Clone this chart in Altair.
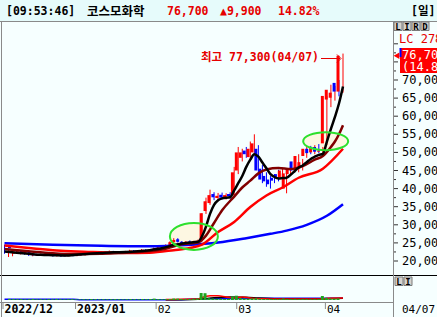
import altair as alt
import pandas as pd

# ---------------- values ----------------
opens = [24300, 22000, 22300, 22800, 22200, 22500, 22000, 21500, 21800, 21500, 21900, 21600, 21800, 21400, 21700, 21300, 21600, 21900,
         21500, 21900, 21700, 22100, 22300, 22000, 22400, 22200, 22500, 22700, 22400, 22600, 22300, 22700, 22900, 22600, 22900, 23100, 22900, 23200,
         23500, 23800, 23800, 24400, 25200, 26000, 25300, 24900, 25400, 25000, 25300, 25600, 33800, 36000, 38500, 37400, 38300, 37500, 38500, 38200,
         45000, 48500, 50500, 48700, 50000, 51000, 45500, 43500, 42500, 43000, 44000, 43000, 40000, 44000, 47500, 45000, 45500, 49000, 51000, 50000, 51500, 50200,
         52500, 64600, 65100, 69200, 66800]
closes = [23500, 22600, 22700, 22300, 22500, 22000, 21600, 21800, 21500, 21900, 21600, 21800, 21400, 21700, 21300, 21600, 21900, 21500,
          21900, 21700, 22100, 22300, 22000, 22400, 22200, 22500, 22700, 22400, 22600, 22300, 22700, 22900, 22600, 22900, 23100, 22900, 23200, 23500,
          23800, 23600, 24400, 25200, 25800, 25300, 24900, 25300, 25000, 25400, 25600, 33200, 36500, 38200, 37600, 38000, 37500, 38200, 37900, 44500,
          50000, 50000, 49500, 51000, 52500, 45000, 42500, 42000, 41200, 42200, 42800, 45000, 44200, 45500, 45000, 49000, 47300, 51000, 49800, 51200, 50200, 50500,
          65600, 67300, 66500, 66800, 76700]
highs = [24500, 23000, 23100, 23000, 22800, 22700, 22200, 22000, 22000, 22100, 22100, 22000, 21900, 21900, 21800, 21800, 22100, 22000,
         22000, 22000, 22200, 22500, 22400, 22500, 22500, 22600, 22900, 22800, 22700, 22700, 22800, 23100, 23000, 23000, 23300, 23200, 23300, 23700,
         24000, 24000, 24600, 25400, 26300, 26300, 25500, 25500, 25700, 25600, 25900, 33200, 37500, 39700, 39000, 38800, 38900, 38700, 39000, 46000,
         51500, 51000, 51500, 53000, 55000, 52000, 46500, 44500, 43500, 44000, 45200, 45800, 45000, 46500, 48500, 49500, 48200, 51800, 51800, 52000, 52300, 51500,
         65600, 68700, 68400, 70000, 77300]
lows = [22000, 21100, 21300, 22100, 21800, 21700, 21400, 21300, 21400, 21400, 21400, 21400, 21200, 21200, 21100, 21200, 21500, 21300,
        21300, 21500, 21500, 21900, 21800, 21800, 22000, 22000, 22300, 22200, 22200, 22100, 22100, 22500, 22400, 22400, 22700, 22700, 22700, 23000,
        23300, 23400, 23700, 24200, 25000, 25100, 24700, 24700, 24900, 24800, 25100, 25400, 33000, 35500, 36800, 36500, 37000, 37000, 37200, 38000,
        44000, 47500, 48500, 48000, 49500, 44500, 41500, 40500, 40000, 41500, 42000, 42500, 38700, 43500, 44500, 44500, 45000, 48500, 49500, 49500, 49800, 49500,
        52000, 62500, 64300, 65500, 66500]
volumes = [1100, 900, 800, 900, 700, 800, 900, 700, 800, 700, 800, 700, 900, 800, 700, 800, 900, 700,
           700, 800, 700, 900, 800, 700, 800, 700, 800, 900, 800, 700, 800, 900, 800, 700, 900, 800, 1000, 1400,
           900, 800, 900, 1000, 1500, 1400, 900, 900, 1000, 1200, 1500, 7000, 6800, 1800, 1500, 1200, 1300, 1000, 1200, 3500,
           4300, 2000, 1500, 1300, 1600, 1800, 1200, 1000, 900, 900, 1000, 900, 1400, 1000, 900, 1100, 900, 1000, 900, 800, 900, 900,
           4000, 2200, 1500, 1400, 1600]
day = list(range(len(closes)))

# moving averages (sampled along the drawn lines)
ma5_day = [0, 3, 6, 9, 12, 15, 18, 21, 24, 27, 30, 33, 36, 39, 42, 45, 48, 49, 50, 51, 52, 53, 54, 56, 57, 58, 59, 60, 61, 62, 63, 64, 65,
           66, 67, 68, 69, 70, 71, 72, 73, 74, 75, 76, 77, 78, 79, 80, 81, 82, 83, 84]
ma5 = [22600, 22300, 22000, 21700, 21600, 21500, 21700, 22000, 22200, 22400, 22500, 22700, 23000, 23500, 24400, 25000, 25300, 26800, 29500,
       33000, 35500, 36800, 37300, 37600, 39500, 41500, 43500, 46000, 48000, 49500, 48800, 47200, 45600, 44000, 43200, 42800, 42900, 43000,
       43800, 44800, 45800, 46400, 47300, 48200, 48800, 49300, 49600, 53000, 56500, 59800, 63500, 68200]
ma10_day = [0, 8, 16, 24, 32, 40, 44, 48, 50, 52, 54, 57, 59, 61, 63, 65, 68, 71, 74, 77, 79, 81, 82, 83, 84]
ma10 = [23300, 22500, 21900, 22000, 22400, 23400, 24600, 25100, 27000, 30500, 34000, 37800, 40300, 42200, 44200, 45300, 45700, 45400,
        46200, 48000, 49000, 51500, 53000, 55000, 57500]
ma20_day = [0, 6, 12, 18, 24, 30, 36, 42, 46, 49, 53, 57, 61, 65, 69, 73, 79, 84]
ma20 = [24300, 23600, 23000, 22600, 22400, 22200, 22300, 23000, 23600, 24500, 28000, 30800, 34900, 38100, 40300, 43000, 45500, 51000]
ma60_day = [0, 12, 24, 36, 45, 53, 60, 66, 70, 75, 80, 84]
ma60 = [24900, 24500, 24200, 24050, 24400, 25100, 26300, 27500, 28400, 30000, 32500, 35700]

vma_blue_day = [0, 17, 19, 44, 48, 52, 60, 70, 79, 84]
vma_blue = [700, 700, 300, 300, 1000, 1300, 1600, 1700, 1700, 1700]
vma_black_day = [40, 48, 52, 56, 60, 63, 68, 79, 81, 84]
vma_black = [300, 800, 2200, 2900, 2800, 2000, 1200, 1000, 1400, 1800]
vma_red_day = [40, 44, 48, 49, 51, 53, 55, 57, 59, 62, 70, 79, 80, 84]
vma_red = [500, 700, 900, 2500, 4300, 4300, 3000, 2000, 3000, 1500, 1000, 1000, 1800, 2000]

price_ticks = [20000, 25000, 30000, 35000, 40000, 45000, 50000, 55000, 60000, 65000, 70000]
price_labels = ["20,000", "25,000", "30,000", "35,000", "40,000", "45,000", "50,000", "55,000", "60,000", "65,000", "70,000"]
major_ticks = price_ticks + [75000, 80000]
minor_ticks = [22500, 27500, 32500, 37500, 42500, 47500, 52500, 57500, 62500, 67500, 72500, 77500]

month_day = [0, 18, 38, 58, 80]
month_label = ["2022/12", "2023/01", "02", "03", "04"]
month_bold = [True, True, False, False, False]

high_day, high_price, last_price = 84, 77300, 76700
ell1_day, ell1_price = 47.0, 26800
ell2_day, ell2_price = 79.7, 53100

# ---------------- scales & helpers ----------------
XS = alt.Scale(domain=[0, 84], range=[4.5, 343], nice=False, zero=False)
YP = alt.Scale(domain=[20000, 70000], range=[261, 80], nice=False, zero=False)
YV = alt.Scale(domain=[0, 24000], range=[300, 276], nice=False, zero=False)
MONO = "DejaVu Sans Mono, Noto Sans CJK KR"
RED = "#e60000"
GRAY = "#8a8a8a"
one = pd.DataFrame({"d": [0]})


def X(f="i"):
    return alt.X(f + ":Q", scale=XS, axis=None)


def hline(y, x1, x2, color, w=1):
    return alt.Chart(one).mark_rule(color=color, strokeWidth=w).encode(
        x=alt.value(x1), x2=alt.value(x2), y=alt.value(y))


def vline(x, y1, y2, color, w=1):
    return alt.Chart(one).mark_rule(color=color, strokeWidth=w).encode(
        x=alt.value(x), y=alt.value(y1), y2=alt.value(y2))


def box(x1, x2, y1, y2, fill, stroke=None):
    kw = dict(fill=fill)
    if stroke:
        kw.update(stroke=stroke, strokeWidth=1)
    return alt.Chart(one).mark_rect(**kw).encode(
        x=alt.value(x1), x2=alt.value(x2), y=alt.value(y1), y2=alt.value(y2))


def label(x, y, s, color="#000000", size=11, bold=False, align="left", font=MONO):
    return alt.Chart(one).mark_text(text=s, color=color, fontSize=size,
                                    fontWeight="bold" if bold else "normal",
                                    align=align, baseline="middle", font=font).encode(
        x=alt.value(x), y=alt.value(y))


def ma_line(days, vals, color, w=2.5, scale=YP):
    df = pd.DataFrame({"i": days, "v": vals})
    return alt.Chart(df).mark_line(color=color, strokeWidth=w, interpolate="monotone").encode(
        x=X(), y=alt.Y("v:Q", scale=scale, axis=None))


def ellipse(ci, cp, rx, ry, filled):
    k = ry / rx
    path = f"M -1 0 A 1 {k:.4f} 0 1 0 1 0 A 1 {k:.4f} 0 1 0 -1 0 Z"
    df = pd.DataFrame({"i": [ci], "p": [cp]})
    if filled:
        m = alt.Chart(df).mark_point(shape=path, size=(2 * rx) ** 2, filled=True,
                                     color="#fdf7e2", opacity=1, strokeWidth=0)
    else:
        m = alt.Chart(df).mark_point(shape=path, size=(2 * rx) ** 2, filled=False,
                                     color="#2de02d", strokeWidth=2, opacity=1)
    return m.encode(x=X(), y=alt.Y("p:Q", scale=YP, axis=None))


layers = []

# header
layers += [box(0, 437, 0, 21, "#e6fbfb"), hline(21.5, 0, 437, GRAY)]
layers += [label(6, 11.5, "[09:53:46]", bold=True, size=11.5),
           label(87, 11.5, "코스모화학", bold=True, size=12.5, font="Noto Sans CJK KR"),
           label(167, 11.5, "76,700", RED, bold=True, size=11.5),
           label(220, 11.5, "▲9,900", RED, bold=True, size=11.5),
           label(278, 11.5, "14.82%", RED, bold=True, size=11.5),
           label(411, 11.5, "[일]", bold=True, size=11.5)]

# ellipse fills
layers += [ellipse(ell1_day, ell1_price, 24, 13.5, True), ellipse(ell2_day, ell2_price, 22.5, 9, True)]

# candles
cdf = pd.DataFrame({"i": day, "o": opens, "h": highs, "l": lows, "c": closes})
cdf["dir"] = ["up" if c >= o else "down" for o, c in zip(opens, closes)]
CCOL = alt.Color("dir:N", scale=alt.Scale(domain=["up", "down"], range=["#ff0000", "#0000ff"]), legend=None)
layers.append(alt.Chart(cdf).mark_rule(strokeWidth=1).encode(
    x=X(), y=alt.Y("l:Q", scale=YP, axis=None), y2="h:Q", color=CCOL))
layers.append(alt.Chart(cdf).mark_bar(size=3).encode(
    x=X(), y=alt.Y("o:Q", scale=YP, axis=None), y2="c:Q", color=CCOL))

# moving averages
layers += [ma_line(ma60_day, ma60, "#0000ff"), ma_line(ma20_day, ma20, "#ff0000"),
           ma_line(ma10_day, ma10, "#800000"), ma_line(ma5_day, ma5, "#000000")]

# ellipse strokes
layers += [ellipse(ell1_day, ell1_price, 24, 13.5, False), ellipse(ell2_day, ell2_price, 22.5, 9, False)]

# annotation of the high
adf = pd.DataFrame({"i": [high_day], "p": [high_price], "t": ["최고 77,300(04/07)"]})
layers.append(alt.Chart(adf).mark_text(align="right", baseline="middle", dx=-24, dy=4.5, color=RED,
                                       fontSize=11.5, fontWeight="bold", font=MONO).encode(
    x=X(), y=alt.Y("p:Q", scale=YP, axis=None), text="t:N"))
layers.append(hline(58.5, 321, 340, RED))
layers.append(alt.Chart(one).mark_point(shape="M -1 -1 L 0 0 L -1 1", size=64, filled=False, color=RED,
                                        strokeWidth=1, opacity=1).encode(x=alt.value(341), y=alt.value(58.5)))

# divider between price and volume
layers.append(hline(275.5, 0, 437, "#000000"))

# volume panel
layers += [ma_line(vma_blue_day, vma_blue, "#0000ff", 1.5, YV), ma_line(vma_black_day, vma_black, "#000000", 1.5, YV),
           ma_line(vma_red_day, vma_red, "#ff0000", 1.5, YV)]
vdf = pd.DataFrame({"i": day, "v": volumes})
layers.append(alt.Chart(vdf).mark_bar(size=3, color="#1fa51f").encode(
    x=X(), y=alt.Y("v:Q", scale=YV, axis=None)))

# right price axis
layers.append(vline(393.5, 21.5, 317, GRAY))
layers.append(alt.Chart(pd.DataFrame({"p": major_ticks})).mark_rule(color="#333333").encode(
    x=alt.value(394), x2=alt.value(398), y=alt.Y("p:Q", scale=YP, axis=None)))
layers.append(alt.Chart(pd.DataFrame({"p": minor_ticks})).mark_rule(color="#333333").encode(
    x=alt.value(394), x2=alt.value(396), y=alt.Y("p:Q", scale=YP, axis=None)))
layers.append(alt.Chart(pd.DataFrame({"p": price_ticks, "t": price_labels})).mark_text(
    align="left", baseline="middle", font=MONO, fontSize=12, color="#000000").encode(
    x=alt.value(402), y=alt.Y("p:Q", scale=YP, axis=None), text="t:N"))
layers.append(label(399, 39, "LC 278", RED, size=12))
layers.append(box(400, 437, 48, 73, "#ff0000"))
layers.append(vline(400.5, 48, 57, "#0000ff", 2))
layers.append(label(402, 54.5, "76,700", "#ffffff", size=12))
layers.append(label(402, 67, "(14.82%)", "#ffffff", size=12))
layers.append(alt.Chart(pd.DataFrame({"p": [last_price]})).mark_point(
    shape="triangle-left", size=45, filled=True, color="#ff0000", opacity=1).encode(
    x=alt.value(396.5), y=alt.Y("p:Q", scale=YP, axis=None)))
for k, ch in enumerate("LIRD"):
    x0 = 394 + 9 * k
    layers.append(box(x0, x0 + 8, 22, 30.5, "#d6d3ce", "#7a7a7a"))
    layers.append(label(x0 + 4, 26.5, ch, size=9, bold=True, align="center"))
for k, ch in enumerate("LI"):
    x0 = 395 + 9 * k
    layers.append(box(x0, x0 + 8, 277, 285.5, "#d6d3ce", "#7a7a7a"))
    layers.append(label(x0 + 4, 281.5, ch, size=9, bold=True, align="center"))

# left border and bottom time axis
layers.append(vline(1.5, 21.5, 317, GRAY))
layers.append(hline(302.5, 0, 393.5, GRAY))
mdf = pd.DataFrame({"i": month_day, "t": month_label, "b": month_bold})
layers.append(alt.Chart(mdf).mark_rule(color=GRAY, xOffset=-1.5).encode(
    x=X(), y=alt.value(302), y2=alt.value(309)))
layers.append(alt.Chart(mdf[mdf.b]).mark_text(align="left", baseline="middle", font=MONO, fontSize=11.5,
                                              fontWeight="bold", color="#000000").encode(
    x=X(), y=alt.value(310), text="t:N"))
layers.append(alt.Chart(mdf[~mdf.b]).mark_text(align="left", baseline="middle", font=MONO, fontSize=11,
                                               color="#000000").encode(
    x=X(), y=alt.value(310), text="t:N"))
layers.append(label(402, 310, "04/07", size=11))

chart = alt.layer(*layers).resolve_scale(
    x="independent", y="independent", color="independent"
).properties(
    width=437, height=317, padding=0, background="#f6ffff",
    autosize=alt.AutoSizeParams(type="none")
).configure_view(strokeWidth=0)

chart.save("out.html", embed_options={"renderer": "svg", "actions": False})
